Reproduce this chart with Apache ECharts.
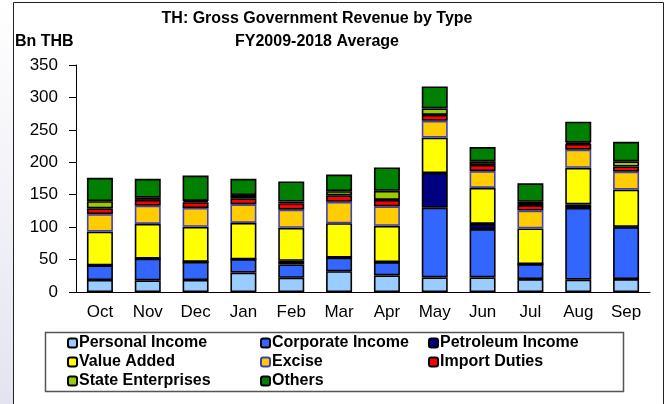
<!DOCTYPE html>
<html>
<head>
<meta charset="utf-8">
<script src="https://cdn.jsdelivr.net/npm/echarts@6/dist/echarts.min.js"></script>
<style>
  html, body { margin: 0; padding: 0; background: #fff; }
  #chart { width: 669px; height: 404px; }
</style>
</head>
<body>
<div id="chart"></div>
<script>
// months of the fiscal year
const months = ["Oct", "Nov", "Dec", "Jan", "Feb", "Mar", "Apr", "May", "Jun", "Jul", "Aug", "Sep"];

// Bn THB
const personalIncome   = [18.5, 18, 18.5, 30, 22, 32, 25.5, 22.5, 22.5, 20, 19, 20];
const corporateIncome  = [22.5, 33.5, 28, 20.5, 20.5, 21, 20.5, 107.5, 74.5, 23, 110.5, 80];
const petroleumIncome  = [0, 0, 0, 0, 5.5, 0, 0, 53.5, 8, 0, 5.5, 0.5];
const valueAdded       = [52, 53.5, 54, 56, 51, 53, 56, 54.5, 55.5, 55, 56.5, 57.5];
const excise           = [27, 28, 29, 28.5, 28, 33, 30, 26, 26, 27.5, 28, 27.5];
const importDuties     = [9, 9, 9, 9.5, 10, 10, 10, 9, 9.5, 8.5, 9, 8];
const stateEnterprises = [11, 3.5, 2, 5, 2.5, 6.5, 14, 10, 5.5, 5, 2, 8];
const others           = [36, 29, 39, 25, 31, 25.5, 36, 34, 22, 28.5, 32, 30];

const FONT = "'Liberation Sans', Arial, sans-serif";

const chart = echarts.init(document.getElementById("chart"), null, { renderer: "canvas" });

// one stacked bar series
const makeSeries = (name, data, color, border) => ({
    name: name,
    type: "bar",
    stack: "total",
    barWidth: 26,
    data: data,
    itemStyle: {
        color: color,
        borderColor: border || "#000",
        borderWidth: 1.6,
    },
});

const series = [
    makeSeries("Personal Income", personalIncome, "#99ccff"),
    makeSeries("Corporate Income", corporateIncome, "#3366ff"),
    makeSeries("Petroleum Income", petroleumIncome, "#000080"),
    makeSeries("Value Added", valueAdded, "#ffff00"),
    makeSeries("Excise", excise, "#ffcc00", "#4040b0"),
    makeSeries("Import Duties", importDuties, "#ff0000"),
    makeSeries("State Enterprises", stateEnterprises, "#99cc00"),
    makeSeries("Others", others, "#008000"),
];

// legend column, fixed x so the three columns line up
const legendCol = (left, names) => ({
    orient: "vertical",
    left: left,
    top: 330,
    itemWidth: 9,
    itemHeight: 9,
    itemGap: 3,
    data: names,
    textStyle: { color: "#000", fontSize: 16, fontWeight: "bold", fontFamily: FONT, padding: [0, 0, 0, -3] },
    selectedMode: false,
});

const option = {
    animation: false,
    textStyle: { fontFamily: FONT },
    graphic: [
        // faint slide background at the left edge
        {
            type: "rect",
            shape: { x: 0, y: 0, width: 13, height: 404 },
            style: {
                fill: new echarts.graphic.LinearGradient(0, 0, 0, 1, [
                    { offset: 0, color: "#ffffff" },
                    { offset: 1, color: "#e4e4f0" },
                ]),
            },
            silent: true,
        },
        {
            type: "rect",
            shape: { x: 13.5, y: 2.5, width: 650, height: 420 },
            style: { fill: "none", stroke: "#222", lineWidth: 1 },
            silent: true,
        },
        {
            type: "rect",
            shape: { x: 45.5, y: 332.5, width: 578, height: 59 },
            style: { fill: "none", stroke: "#555", lineWidth: 1.5 },
            silent: true,
        },
        {
            type: "text",
            x: 317,
            y: 19,
            style: { text: "TH: Gross Government Revenue by Type", fill: "#000", font: "bold 16px " + FONT, textAlign: "center", textVerticalAlign: "middle" },
        },
        {
            type: "text",
            x: 317,
            y: 42,
            style: { text: "FY2009-2018 Average", fill: "#000", font: "bold 16px " + FONT, textAlign: "center", textVerticalAlign: "middle" },
        },
        {
            type: "text",
            x: 15,
            y: 42,
            style: { text: "Bn THB", fill: "#000", font: "bold 16px " + FONT, textAlign: "left", textVerticalAlign: "middle" },
        },
    ],
    legend: [
        legendCol(62, ["Personal Income", "Value Added", "State Enterprises"]),
        legendCol(255, ["Corporate Income", "Excise", "Others"]),
        legendCol(423, ["Petroleum Income", "Import Duties"]),
    ],
    grid: {
        left: 76,
        right: 19,
        top: 65,
        bottom: 112,
        containLabel: false,
    },
    xAxis: {
        type: "category",
        data: months,
        axisLine: { lineStyle: { color: "#000", width: 1 } },
        axisTick: { length: 5, lineStyle: { color: "#000" } },
        axisLabel: { color: "#000", fontSize: 17, margin: 12, fontFamily: FONT },
    },
    yAxis: {
        type: "value",
        min: 0,
        max: 350,
        interval: 50,
        axisLine: { show: true, lineStyle: { color: "#000", width: 1 } },
        axisTick: { show: true, length: 7, lineStyle: { color: "#000" } },
        axisLabel: { color: "#000", fontSize: 17, margin: 18, fontFamily: FONT },
        splitLine: { show: false },
    },
    series: series,
};

chart.setOption(option);
</script>
</body>
</html>
